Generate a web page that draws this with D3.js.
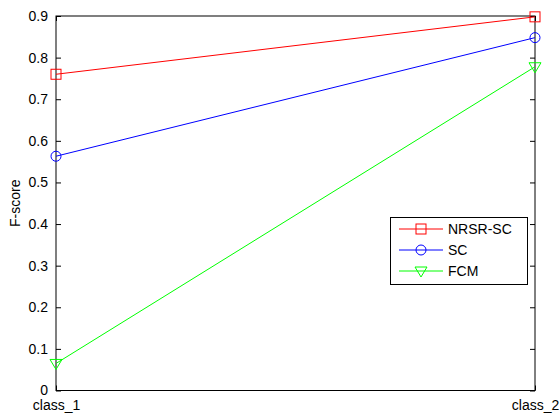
<!DOCTYPE html>
<html>
<head>
<meta charset="utf-8">
<script src="https://cdn.jsdelivr.net/npm/d3@7"></script>
<style>
  body { margin: 0; background: #fff; }
  text { font-family: "Liberation Sans", Arial, sans-serif; }
</style>
</head>
<body>
<div id="app"></div>
<script>
const categories = ["class_1", "class_2"];
const nrsrsc = [0.76, 0.898];
const sc = [0.563, 0.848];
const fcm = [0.065, 0.778];
const yTicks = [0, 0.1, 0.2, 0.3, 0.4, 0.5, 0.6, 0.7, 0.8, 0.9];

const w = 560, h = 414;
const x0 = 56, x1 = 535, y0 = 16, y1 = 390.5;

const svg = d3.select("#app").append("svg")
  .attr("width", w)
  .attr("height", h);

const x = d3.scalePoint().domain(categories).range([x0, x1]);
const y = d3.scaleLinear().domain([0, 0.9]).range([y1, y0]);

// axes with inward ticks, box around
svg.append("g")
  .attr("transform", "translate(" + x0 + ",0)")
  .call(d3.axisLeft(y).tickValues(yTicks).tickSize(-5).tickPadding(8).tickFormat(d3.format("~g")))
  .call(g => g.select(".domain").remove());
svg.append("g")
  .attr("transform", "translate(" + x1 + ",0)")
  .call(d3.axisRight(y).tickValues(yTicks).tickSize(-5).tickFormat(""))
  .call(g => g.select(".domain").remove());
svg.append("g")
  .attr("transform", "translate(0," + y1 + ")")
  .call(d3.axisBottom(x).tickSize(-5).tickPadding(10))
  .call(g => g.select(".domain").remove());
svg.append("g")
  .attr("transform", "translate(0," + y0 + ")")
  .call(d3.axisTop(x).tickSize(-5).tickFormat(""))
  .call(g => g.select(".domain").remove());

svg.selectAll(".tick line").attr("stroke", "#000");
svg.selectAll(".tick text").attr("font-size", 14).attr("fill", "#000")
  .attr("font-family", "Liberation Sans, Arial, sans-serif");

svg.append("rect")
  .attr("x", x0).attr("y", y0)
  .attr("width", x1 - x0).attr("height", y1 - y0)
  .attr("fill", "none").attr("stroke", "#000").attr("stroke-width", 1);

svg.append("text")
  .attr("transform", "translate(20," + ((y0 + y1) / 2) + ") rotate(-90)")
  .attr("text-anchor", "middle")
  .attr("font-size", 14)
  .text("F-score");

const series = [
  { name: "NRSR-SC", values: nrsrsc, color: "#ff0000", marker: "square" },
  { name: "SC", values: sc, color: "#0000ff", marker: "circle" },
  { name: "FCM", values: fcm, color: "#00ff00", marker: "tri" }
];

function drawMarker(g, type, cx, cy, color) {
  if (type === "square") {
    g.append("rect").attr("x", cx - 5).attr("y", cy - 5).attr("width", 10).attr("height", 10)
      .attr("fill", "none").attr("stroke", color);
  } else if (type === "circle") {
    g.append("circle").attr("cx", cx).attr("cy", cy).attr("r", 5)
      .attr("fill", "none").attr("stroke", color);
  } else {
    g.append("path")
      .attr("d", "M" + (cx - 6) + "," + (cy - 4) + "L" + (cx + 6) + "," + (cy - 4) + "L" + cx + "," + (cy + 6) + "Z")
      .attr("fill", "none").attr("stroke", color);
  }
}

const line = d3.line().x((d, i) => x(categories[i])).y(d => y(d));

series.forEach(function (s) {
  const g = svg.append("g");
  g.append("path").attr("d", line(s.values))
    .attr("fill", "none").attr("stroke", s.color).attr("stroke-width", 1);
  s.values.forEach(function (v, i) {
    drawMarker(g, s.marker, x(categories[i]), y(v), s.color);
  });
});

// legend
const lg = svg.append("g");
lg.append("rect").attr("x", 390.5).attr("y", 217.5).attr("width", 137).attr("height", 67)
  .attr("fill", "#fff").attr("stroke", "#000");
series.forEach(function (s, i) {
  const ly = 229 + i * 21;
  lg.append("line").attr("x1", 399).attr("x2", 443).attr("y1", ly).attr("y2", ly)
    .attr("stroke", s.color);
  drawMarker(lg, s.marker, 421, ly, s.color);
  lg.append("text").attr("x", 448).attr("y", ly + 5)
    .attr("font-size", 14).text(s.name);
});
</script>
</body>
</html>
